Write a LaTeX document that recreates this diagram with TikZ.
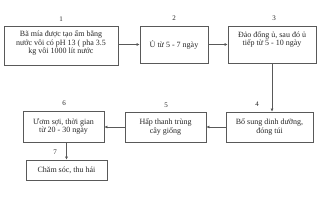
\documentclass[tikz,border=0pt]{standalone}
\usepackage{fontspec}
\setmainfont{Liberation Serif}
\usetikzlibrary{arrows.meta}
\begin{document}
\begin{tikzpicture}[x=1pt,y=-1pt,
  stepbox/.style={draw=black!65, line width=0.6pt, inner sep=1pt, align=center,
    font=\fontsize{8}{8.5}\selectfont, text=black!85},
  steptext/.style={inner sep=0pt, align=center,
    font=\fontsize{8}{8.5}\selectfont, text=black!85},
  lbl/.style={font=\fontsize{7}{7}\selectfont, text=black!85, inner sep=0pt},
  conn/.style={draw=black!65, line width=0.6pt, -{Latex[length=3pt,width=3pt]}}]
\useasboundingbox (0,0) rectangle (318,200);
\node[stepbox, minimum width=114pt, minimum height=39pt] (b1) at (61,45.5) {};
\node[steptext] (t1) at (61,43)
  {Bã mía được tạo ẩm bằng\\ nước vôi có pH 13 ( pha 3.5\\ kg vôi 1000 lít nước};
\node[stepbox, minimum width=68pt, minimum height=37pt] (b2) at (174,44.5)
  {Ủ từ 5 - 7 ngày};
\node[stepbox, minimum width=88pt, minimum height=37pt] (b3) at (272,44.5) {};
\node[steptext] (t3) at (272,39.5)
  {Đảo đống ủ, sau đó ủ\\ tiếp từ 5 - 10 ngày};
\node[stepbox, minimum width=87pt, minimum height=30pt] (b4) at (269.5,127)
  {Bổ sung dinh dưỡng,\\ đóng túi};
\node[stepbox, minimum width=81pt, minimum height=30pt] (b5) at (165.5,127)
  {Hấp thanh trùng\\ cây giống};
\node[stepbox, minimum width=81pt, minimum height=31pt] (b6) at (63.5,126.5)
  {Ươm sợi, thời gian\\ từ 20 - 30 ngày};
\node[stepbox, minimum width=81pt, minimum height=20pt] (b7) at (66.5,170)
  {Chăm sóc, thu hái};
\node[lbl] (l1) at (61,19) {1};
\node[lbl] (l2) at (174,18) {2};
\node[lbl] (l3) at (274,18) {3};
\node[lbl] (l4) at (257,104) {4};
\node[lbl] (l5) at (166,105) {5};
\node[lbl] (l6) at (64,103) {6};
\node[lbl] (l7) at (55,152) {7};
\draw[conn] (b1.east |- b2.west) -- (b2.west);
\draw[conn] (b2.east) -- (b3.west);
\draw[conn] (b3.south) -- (b3.south |- b4.north);
\draw[conn] (b4.west) -- (b5.east);
\draw[conn] (b5.west) -- (b5.west -| b6.east);
\draw[conn] (b6.south -| b7.north) -- (b7.north);
\end{tikzpicture}
\end{document}
